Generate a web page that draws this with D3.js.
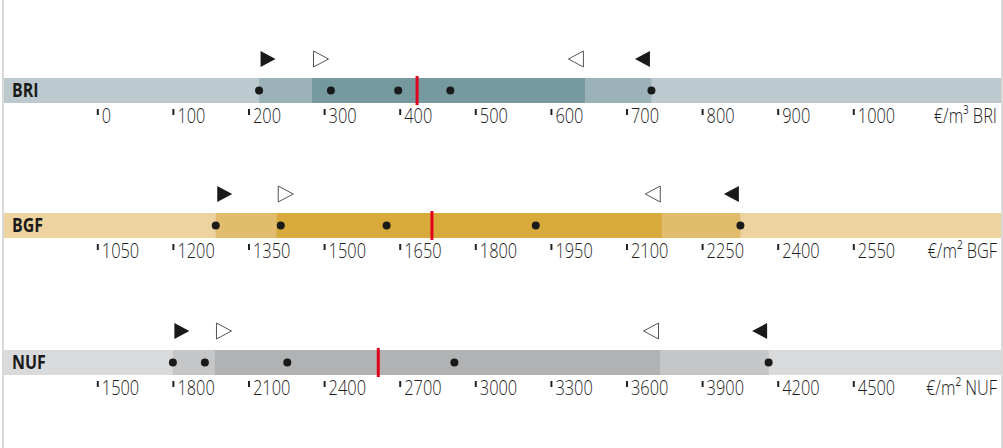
<!DOCTYPE html>
<html>
<head>
<meta charset="utf-8">
<script src="https://cdn.jsdelivr.net/npm/d3@7"></script>
<style>
  body { margin: 0; background: #fff; }
  svg { display: block; }
  text { font-family: "Open Sans", "Noto Sans", sans-serif; }
</style>
</head>
<body>
<div id="chart"></div>
<script>
// cost ranges per reference unit
const labels = ["BRI", "BGF", "NUF"];
const units = ["€/m³ BRI", "€/m² BGF", "€/m² NUF"];
const tickStart = [0, 1050, 1500];
const tickStep = [100, 150, 300];
const rangeLo = [214, 1285, 1800];   // outer markers (filled)
const rangeHi = [733, 2326, 4164];
const innerLo = [284, 1406, 1967];   // inner markers (open)
const innerHi = [645, 2170, 3733];
const median = [423, 1714, 2615];
const points = [
  [214, 309, 398, 467, 733],
  [1285, 1414, 1624, 1920, 2326],
  [1800, 1927, 2254, 2917, 4164]
];

const palettes = [
  ["#bccacf", "#9bb3b8", "#76999f"],
  ["#ecd3a0", "#e0bc6c", "#d8a93b"],
  ["#d9dadb", "#c5c6c7", "#b1b2b3"]
];

const width = 1003, height = 448;
const barTop = [78, 213, 350];
const barH = 25;
const squeeze = 0.78; // condensed look for the labels

const svg = d3.select("#chart")
  .append("svg")
  .attr("width", width)
  .attr("height", height);

// frame lines left and right
svg.append("rect").attr("x", 2).attr("y", 0).attr("width", 2).attr("height", height).attr("fill", "#d9d9d9");
svg.append("rect").attr("x", 1001).attr("y", 0).attr("width", 2).attr("height", height).attr("fill", "#d9d9d9");

labels.forEach((lab, i) => {
  const ticks = d3.range(11).map(k => tickStart[i] + k * tickStep[i]);
  const x = d3.scaleLinear()
    .domain([ticks[0], ticks[10]])
    .range([97.3, 853.3]);

  const g = svg.append("g");
  const y0 = barTop[i];
  const pal = palettes[i];

  // full background band
  g.append("rect")
    .attr("x", 4).attr("y", y0)
    .attr("width", 997).attr("height", barH)
    .attr("fill", pal[0]);

  // range band
  g.append("rect")
    .attr("x", x(rangeLo[i])).attr("y", y0)
    .attr("width", x(rangeHi[i]) - x(rangeLo[i])).attr("height", barH)
    .attr("fill", pal[1]);

  // inner band
  g.append("rect")
    .attr("x", x(innerLo[i])).attr("y", y0)
    .attr("width", x(innerHi[i]) - x(innerLo[i])).attr("height", barH)
    .attr("fill", pal[2]);

  // row label
  g.append("text")
    .attr("transform", `translate(12,${y0 + 19}) scale(0.84,1)`)
    .attr("font-size", 19)
    .attr("font-weight", "bold")
    .attr("fill", "#1a1a1a")
    .text(lab);

  // median line
  g.append("line")
    .attr("x1", x(median[i])).attr("x2", x(median[i]))
    .attr("y1", y0 - 2).attr("y2", y0 + barH + 2)
    .attr("stroke", "#e2001a")
    .attr("stroke-width", 3);

  // data points
  g.selectAll("circle")
    .data(points[i])
    .join("circle")
    .attr("cx", d => x(d))
    .attr("cy", y0 + barH / 2)
    .attr("r", 4)
    .attr("fill", "#1a1a1a");

  // triangle markers above the bar
  const ty = y0 - 27, th = 16, tw = 15;
  const tri = [
    { v: rangeLo[i], dir: 1, fill: "#1a1a1a" },
    { v: innerLo[i], dir: 1, fill: "#fff" },
    { v: innerHi[i], dir: -1, fill: "#fff" },
    { v: rangeHi[i], dir: -1, fill: "#1a1a1a" }
  ];
  g.selectAll("path.tri")
    .data(tri)
    .join("path")
    .attr("class", "tri")
    .attr("d", d => {
      const bx = x(d.v) + d.dir * 1.5;
      const tip = bx + d.dir * tw;
      return `M${bx},${ty}L${tip},${ty + th / 2}L${bx},${ty + th}Z`;
    })
    .attr("fill", d => d.fill)
    .attr("stroke", d => d.fill === "#fff" ? "#555" : "none")
    .attr("stroke-width", 1);

  // axis
  const axis = d3.axisBottom(x)
    .tickValues(ticks)
    .tickSize(6)
    .tickFormat(d3.format("d"));

  const ag = g.append("g")
    .attr("transform", `translate(0,${y0 + barH + 6})`)
    .call(axis);
  ag.select(".domain").remove();
  ag.selectAll(".tick line")
    .attr("stroke", "#222")
    .attr("stroke-width", 2);
  ag.selectAll(".tick text")
    .attr("x", 0)
    .attr("y", 0)
    .attr("dy", "0.78em")
    .attr("transform", `translate(4,-2) scale(${squeeze},1)`)
    .attr("text-anchor", "start")
    .attr("font-size", 21)
    .attr("font-weight", 300)
    .attr("font-family", "'Open Sans', 'Noto Sans', sans-serif")
    .attr("fill", "#1e1e1e");

  // unit label
  g.append("text")
    .attr("transform", `translate(997,${y0 + barH + 4}) scale(${squeeze},1)`)
    .attr("dy", "0.78em")
    .attr("text-anchor", "end")
    .attr("font-size", 21)
    .attr("font-weight", 300)
    .attr("fill", "#1e1e1e")
    .text(units[i]);
});
</script>
</body>
</html>
